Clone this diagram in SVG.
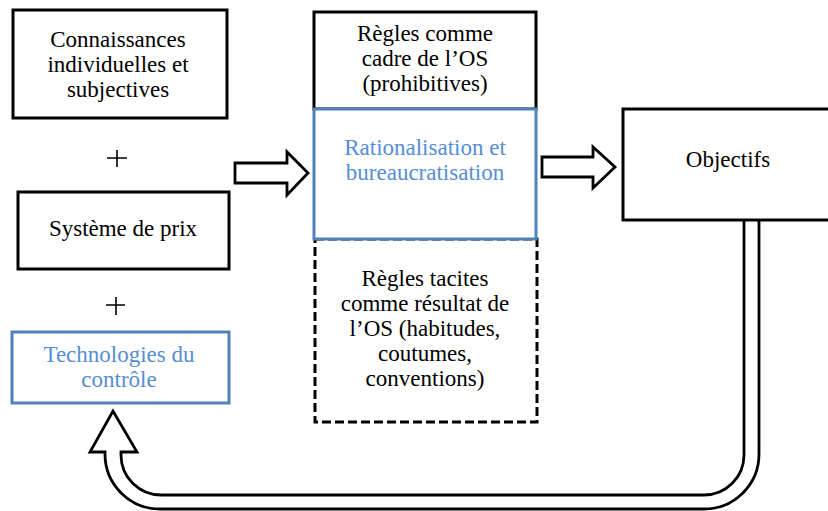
<svg xmlns="http://www.w3.org/2000/svg" width="828" height="511" viewBox="0 0 828 511">
<style>
.box{fill:#fff;stroke:#000;stroke-width:3}
.blue{fill:#fff;stroke:#4f81bd;stroke-width:3}
.dash{fill:#fff;stroke:#000;stroke-width:3;stroke-dasharray:9 4}
.arr{fill:#fff;stroke:#000;stroke-width:2.8;stroke-linejoin:miter}
.plus{stroke:#000;stroke-width:1.6}
text{font-family:'Liberation Serif','DejaVu Serif',serif;font-size:23px;fill:#000;text-anchor:middle}
text.b{fill:#558ed5}
</style>
<rect width="828" height="511" fill="#fff"/>
<g id="connectors">
<path class="arr" d="M235,163 H287 V152 L308,173 L287,195 V183 H235 Z"/>
<path class="arr" d="M542,157 H593 V147 L615,167 L593,188 V177 H542 Z"/>
<path class="arr" d="M759,221 V454 A55,55 0 0 1 704,509 H160 A55,55 0 0 1 105,454 V452 H90 L113,411 L137,452 H121 V455 A40,40 0 0 0 161,495 H704 A40,40 0 0 0 744,455 V221"/>
</g>
<g id="connaissances">
<rect class="box" x="13" y="10" width="214" height="108" stroke-width="3.5"/>
<text x="118" y="47">Connaissances</text>
<text x="118" y="72">individuelles et</text>
<text x="118" y="97">subjectives</text>
</g>
<g id="plus1"><path class="plus" d="M107,158 H127 M117,150 V167"/></g>
<g id="systeme">
<rect class="box" x="18" y="192" width="211" height="77"/>
<text x="123" y="236">Système de prix</text>
</g>
<g id="plus2"><path class="plus" d="M106,305 H125 M116,297 V315"/></g>
<g id="technologies">
<rect class="blue" x="12" y="332" width="217" height="71"/>
<text class="b" x="119" y="362">Technologies du</text>
<text class="b" x="119" y="387">contrôle</text>
</g>
<g id="regles-cadre">
<rect class="box" x="314" y="12" width="222" height="97"/>
<text x="425" y="41">Règles comme</text>
<text x="425" y="66">cadre de l’OS</text>
<text x="425" y="91">(prohibitives)</text>
</g>
<g id="regles-tacites">
<rect class="dash" x="315" y="239" width="222" height="183"/>
<text x="425" y="286">Règles tacites</text>
<text x="425" y="311">comme résultat de</text>
<text x="425" y="336">l’OS (habitudes,</text>
<text x="425" y="361">coutumes,</text>
<text x="425" y="386">conventions)</text>
</g>
<g id="rationalisation">
<rect class="blue" x="314" y="109" width="222" height="130"/>
<text class="b" x="425" y="155">Rationalisation et</text>
<text class="b" x="425" y="180">bureaucratisation</text>
</g>
<g id="objectifs">
<rect class="box" x="623" y="109" width="215" height="111"/>
<text x="728" y="167" font-size="22.5">Objectifs</text>
</g>
</svg>
